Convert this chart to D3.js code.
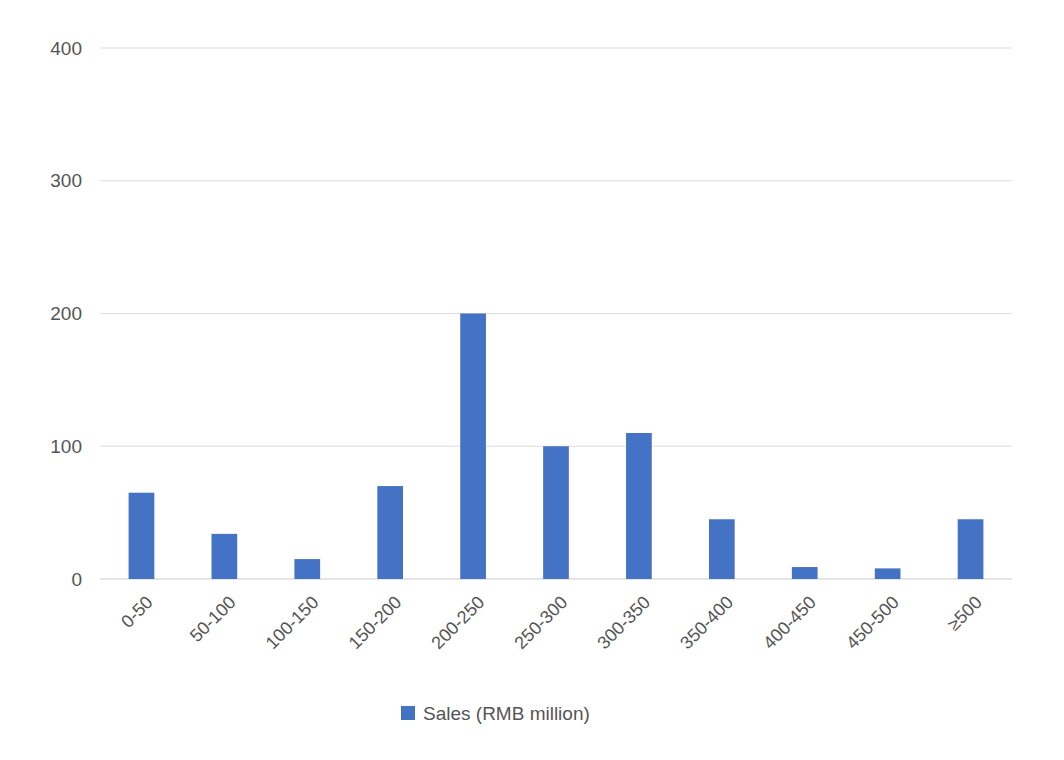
<!DOCTYPE html>
<html>
<head>
<meta charset="utf-8">
<script src="https://cdn.jsdelivr.net/npm/d3@7"></script>
<style>
  body { margin: 0; background: #fff; }
  text { font-family: "Liberation Sans", Arial, sans-serif; fill: #555; }
</style>
</head>
<body>
<svg id="chart" width="1064" height="760"></svg>
<script>
(function () {
const categories = ["0-50", "50-100", "100-150", "150-200", "200-250", "250-300", "300-350", "350-400", "400-450", "450-500", "≥500"];
const sales = [65, 34, 15, 70, 200, 100, 110, 45, 9, 8, 45];
const yTicks = [0, 100, 200, 300, 400];
const seriesName = "Sales (RMB million)";

const svg = d3.select("#chart");
const plotLeft = 100, plotRight = 1012, plotTop = 48, plotBottom = 579;
const color = "#4472c4";

const x = d3.scaleBand().domain(categories).range([plotLeft, plotRight]).paddingInner(0.69).paddingOuter(0.345);
const y = d3.scaleLinear().domain([0, 400]).range([plotBottom, plotTop]);

// gridlines
svg.append("g").selectAll("line").data(yTicks).join("line")
  .attr("x1", plotLeft).attr("x2", plotRight)
  .attr("y1", d => y(d)).attr("y2", d => y(d))
  .attr("stroke", d => d === 0 ? "#ccc" : "#ddd").attr("stroke-width", 1.2);

// y labels
svg.append("g").selectAll("text").data(yTicks).join("text")
  .attr("x", 82).attr("y", d => y(d)).attr("dy", "0.35em")
  .attr("text-anchor", "end").attr("font-size", 19).text(d => d);

// bars
svg.append("g").selectAll("rect").data(sales).join("rect")
  .attr("x", (d, i) => x(categories[i])).attr("width", x.bandwidth())
  .attr("y", d => y(d)).attr("height", d => y(0) - y(d))
  .attr("fill", color);

// x labels
svg.append("g").selectAll("text").data(categories).join("text")
  .attr("transform", d => `translate(${x(d) + x.bandwidth() / 2 + 8},${plotBottom + 20}) rotate(-45)`)
  .attr("text-anchor", "end").attr("dy", "0.35em").attr("font-size", 18).text(d => d);

// legend
const lg = svg.append("g").attr("transform", "translate(401,713)");
lg.append("rect").attr("x", 0).attr("y", -7).attr("width", 14).attr("height", 14).attr("fill", color);
lg.append("text").attr("x", 22).attr("dy", "0.35em").attr("font-size", 19).text(seriesName);
})();
</script>
</body>
</html>
